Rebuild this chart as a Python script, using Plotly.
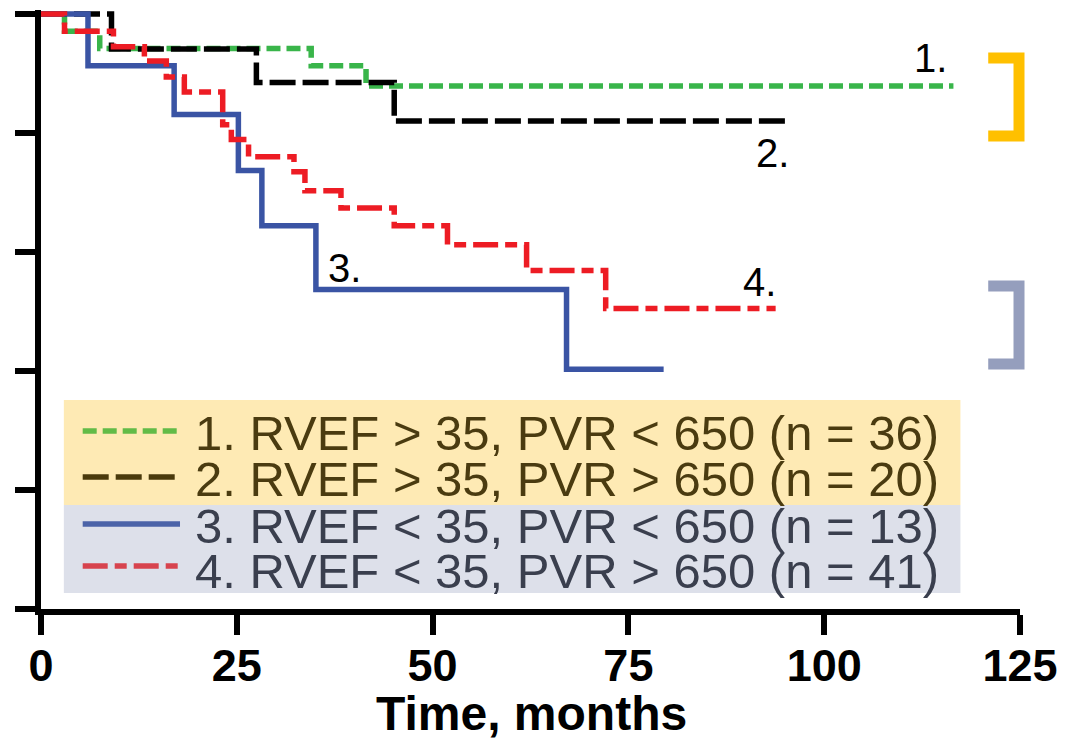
import plotly.graph_objects as go

# ---- survival data (months, surviving fraction) ----
green_t = [0, 3.0, 7.5, 34.5, 41.5, 116.5]
green_s = [1.0, 0.971, 0.942, 0.913, 0.879, 0.879]

black_t = [0, 9.0, 27.5, 45.1, 95.8]
black_s = [1.0, 0.941, 0.885, 0.820, 0.820]

blue_t = [0, 6.0, 17.0, 25.2, 28.2, 35.1, 67.1, 79.5]
blue_s = [1.0, 0.913, 0.831, 0.737, 0.644, 0.537, 0.403, 0.403]

red_t = [0, 3.0, 9.25, 13.2, 16.0, 18.3, 23.2, 24.3, 26.5, 32.3, 33.7, 38.3,
         45.1, 51.9, 62.0, 72.1, 93.8]
red_s = [1.0, 0.971, 0.945, 0.921, 0.894, 0.869, 0.814, 0.789, 0.760, 0.735,
         0.703, 0.674, 0.644, 0.612, 0.569, 0.505, 0.505]

group_labels = [
    "1. RVEF > 35, PVR < 650 (n = 36)",
    "2. RVEF > 35, PVR > 650 (n = 20)",
    "3. RVEF < 35, PVR < 650 (n = 13)",
    "4. RVEF < 35, PVR > 650 (n = 41)",
]
curve_tags = ["1.", "2.", "3.", "4."]
tag_t = [113.6, 93.4, 38.8, 91.7]
tag_s = [0.926, 0.766, 0.573, 0.550]

x_ticks = [0, 25, 50, 75, 100, 125]
y_ticks = [0, 0.2, 0.4, 0.6, 0.8, 1.0]

# ---- figure geometry ----
W, H = 1068, 741
ML, MR, MT, MB = 41, 41, 10, 132
PW, PH = W - ML - MR, H - MT - MB
Y_TOP = PH / 595.0


def px(x):
    return (x - ML) / PW


def py(y):
    return (H - MB - y) / PH


FONT = "Liberation Sans, Arial, sans-serif"

styles = [
    dict(color="#39B54A", dash="14px,6px"),
    dict(color="#000000", dash="26px,7px"),
    dict(color="#3A54A4", dash="solid"),
    dict(color="#ED1C24", dash="25px,7px,12px,7px"),
]
series = [(green_t, green_s), (black_t, black_s), (blue_t, blue_s), (red_t, red_s)]

fig = go.Figure()
for (t, s), st, name in zip(series, styles, group_labels):
    fig.add_trace(go.Scatter(
        x=t, y=s, mode="lines", name=name, showlegend=False,
        line=dict(shape="hv", width=5.5, color=st["color"], dash=st["dash"]),
        hoverinfo="skip",
    ))

# curve tags
for txt, tx, ty in zip(curve_tags, tag_t, tag_s):
    fig.add_annotation(x=tx, y=ty, xref="x", yref="y", text=txt, showarrow=False,
                       font=dict(family=FONT, size=40, color="#000000"),
                       xanchor="center", yanchor="middle")

shapes = []
# legend panels
shapes.append(dict(type="rect", xref="paper", yref="paper", layer="below",
                   x0=px(64), x1=px(967), y0=py(400), y1=py(505),
                   fillcolor="#FEEAB4", line=dict(width=0)))
shapes.append(dict(type="rect", xref="paper", yref="paper", layer="below",
                   x0=px(64), x1=px(967), y0=py(505), y1=py(593),
                   fillcolor="#DDE0EA", line=dict(width=0)))

legend_sample_rows = [431, 477, 524, 566]
legend_text_rows = [433, 479, 526, 571]
legend_line_colors = ["#62BB47", "#4A3A0C", "#4B63A8", "#D7434E"]
legend_text_colors = ["#4A3B10", "#4A3B10", "#3A3F4E", "#3A3F4E"]
for row_y, lc, st in zip(legend_sample_rows, legend_line_colors, styles):
    shapes.append(dict(type="line", xref="paper", yref="paper",
                       x0=px(83), x1=px(181), y0=py(row_y), y1=py(row_y),
                       line=dict(color=lc, width=5.5, dash=st["dash"])))
for row_y, tc, txt in zip(legend_text_rows, legend_text_colors, group_labels):
    fig.add_annotation(x=px(194), y=py(row_y), xref="paper", yref="paper",
                       text=txt, showarrow=False, xanchor="left", yanchor="middle",
                       font=dict(family=FONT, size=49, color=tc))

# group brackets on the right
def bracket(top, bottom, color):
    path = (f"M {px(995)} {py(top)} L {px(1026)} {py(top)} "
            f"L {px(1026)} {py(bottom)} L {px(995)} {py(bottom)}")
    return dict(type="path", xref="paper", yref="paper", path=path,
                line=dict(color=color, width=11))

shapes.append(bracket(58, 136, "#FFC000"))
shapes.append(bracket(286, 364, "#959EBD"))

# axis title
fig.add_annotation(x=px(535), y=py(713), xref="paper", yref="paper",
                   text="<b>Time, months</b>", showarrow=False,
                   xanchor="center", yanchor="middle",
                   font=dict(family=FONT, size=48, color="#000000"))

fig.update_layout(
    width=W, height=H,
    margin=dict(l=ML, r=MR, t=MT, b=MB, pad=0),
    paper_bgcolor="white", plot_bgcolor="white",
    shapes=shapes,
    xaxis=dict(range=[0, 125], tickvals=x_ticks, ticktext=[str(v) for v in x_ticks],
               showgrid=False, zeroline=False, showline=True, linecolor="black",
               linewidth=6, ticks="outside", ticklen=20, tickwidth=6, tickcolor="black",
               ticklabelstandoff=-8,
               tickfont=dict(family=FONT, size=45, color="black", weight="bold")),
    yaxis=dict(range=[0, Y_TOP], tickvals=y_ticks, showticklabels=False,
               showgrid=False, zeroline=False, showline=True, linecolor="black",
               linewidth=6, ticks="outside", ticklen=20, tickwidth=6, tickcolor="black"),
)

fig.write_html("out.html")
